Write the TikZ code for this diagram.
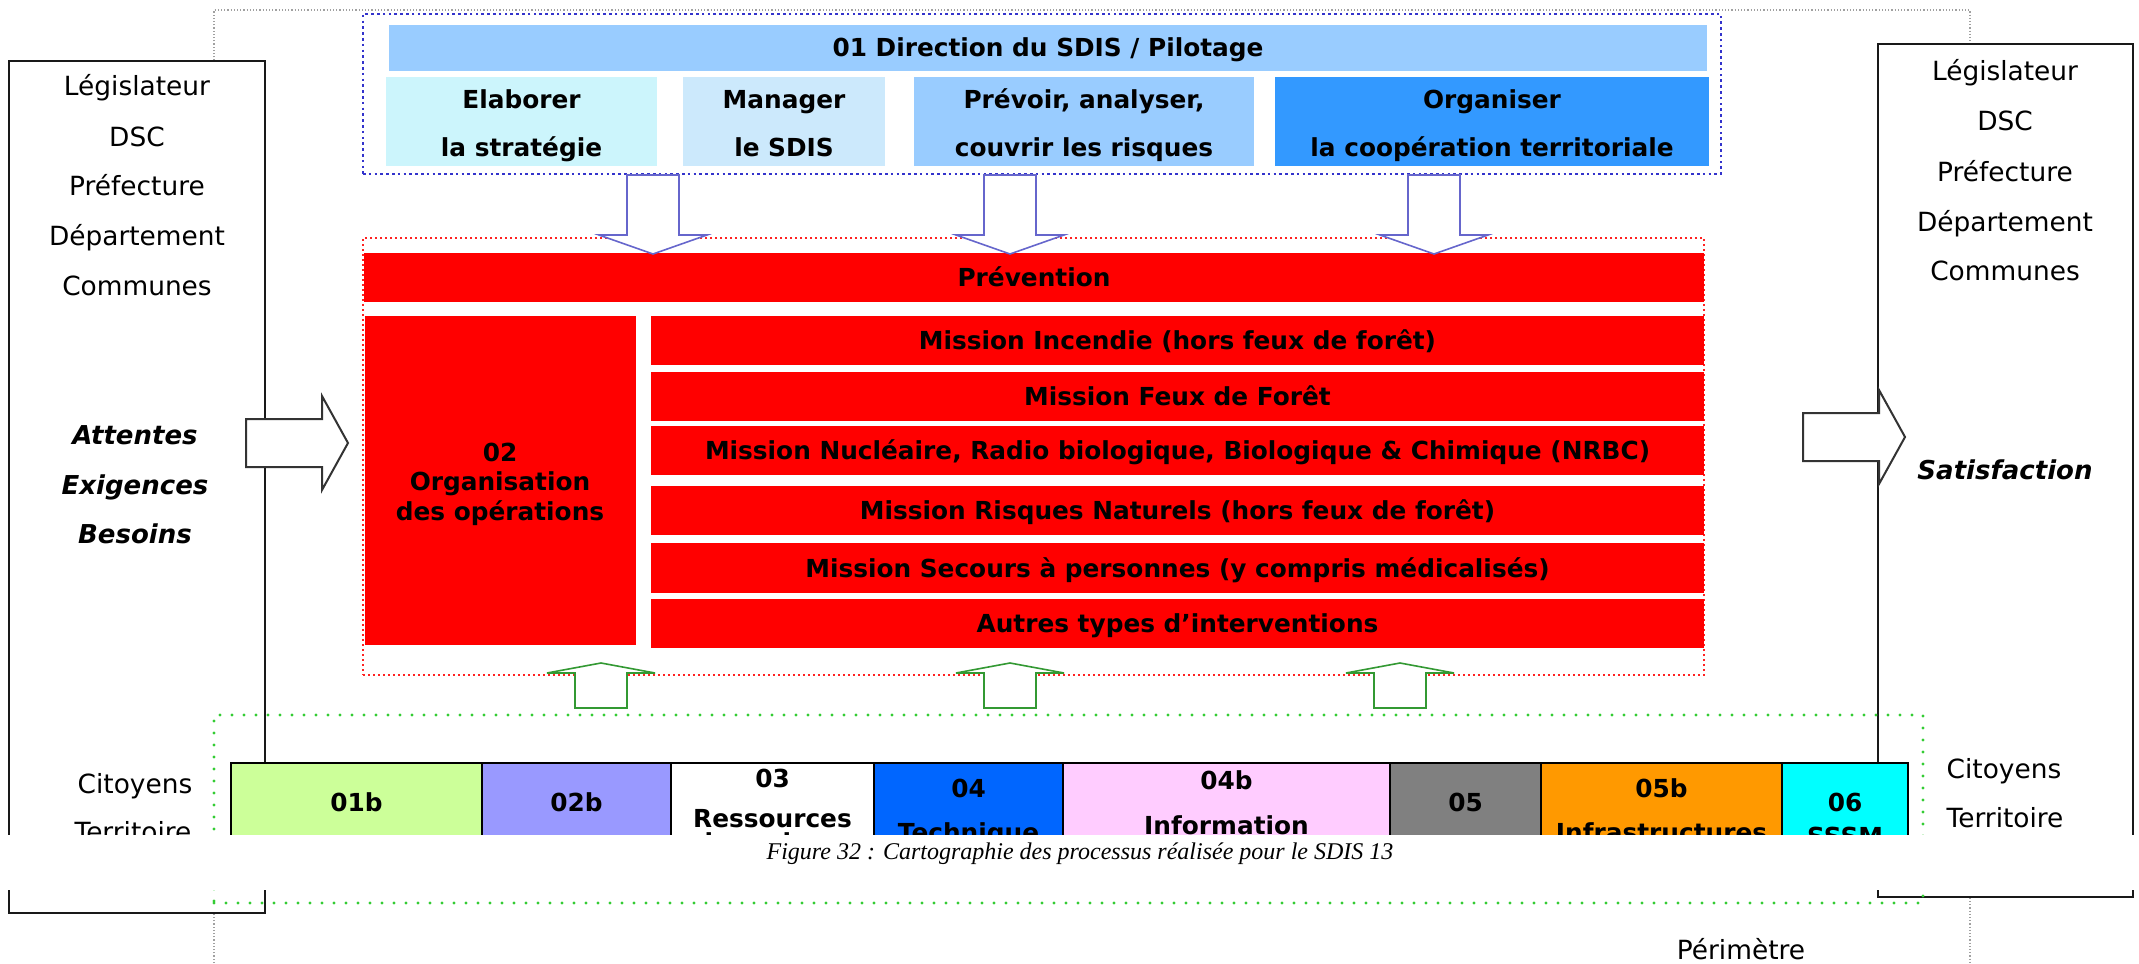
\documentclass[tikz,border=0pt]{standalone}
\usepackage{fontspec}
\setmainfont{DejaVu Sans}
\newfontfamily\capfont{Liberation Serif}
\definecolor{bdot}{HTML}{3333CC}
\definecolor{barr}{HTML}{6666CC}
\definecolor{topbar}{HTML}{99CCFF}
\definecolor{elab}{HTML}{CCF5FC}
\definecolor{mana}{HTML}{CCE9FC}
\definecolor{prev}{HTML}{99CCFF}
\definecolor{orga}{HTML}{3399FF}
\definecolor{rdot}{HTML}{FF2222}
\definecolor{gdot}{HTML}{33CC33}
\definecolor{garr}{HTML}{339933}
\definecolor{c01b}{HTML}{CCFF99}
\definecolor{c02b}{HTML}{9999FF}
\definecolor{c04}{HTML}{0066FF}
\definecolor{c04b}{HTML}{FFCCFF}
\definecolor{c05}{HTML}{808080}
\definecolor{c05b}{HTML}{FF9900}
\definecolor{c06}{HTML}{00FFFF}
\definecolor{perim}{HTML}{A0A0A0}
\definecolor{redbar}{HTML}{FF0000}
\tikzset{
 bx/.style={anchor=north west, inner sep=0pt, outer sep=0pt},
 regt/.style={anchor=base, inner sep=0pt, font=\fontsize{13.2}{16}\selectfont},
 bldt/.style={anchor=base, inner sep=0pt, font=\fontsize{12.4}{15}\selectfont\bfseries},
 bitt/.style={anchor=base, inner sep=0pt, font=\fontsize{13}{16}\selectfont\bfseries\itshape},
 intext/.style={font=\fontsize{12.4}{15}\selectfont\bfseries, text height=10.5pt, text depth=1.5pt},
 redb/.style={bx, fill=redbar, intext},
 sidebox/.style={bx, draw=black!90, line width=1pt, fill=white},
 botbox/.style={bx, draw=black, line width=1pt, minimum height=61pt},
 downarr/.pic={\draw[draw=barr, fill=white, line width=0.8pt, line join=miter] (-26,0)--(-26,60)--(-54,60)--(0,79)--(54,60)--(26,60)--(26,0)--cycle;},
 uparr/.pic={\draw[draw=garr, fill=white, line width=0.8pt, line join=miter] (-26,0)--(-26,-35)--(-54,-35)--(0,-45)--(54,-35)--(26,-35)--(26,0)--cycle;},
 sidearr/.pic={\draw[draw=black!80, fill=white, line width=1pt, line join=miter] (0,-24)--(76,-24)--(76,-47)--(102,0)--(76,47)--(76,24)--(0,24)--cycle;},
}
\begin{document}
\begin{tikzpicture}[x=0.5pt,y=-0.5pt]
\useasboundingbox (0,0) rectangle (2139,963);
\fill[white] (0,0) rectangle (2139,963);
% perimeter
\coordinate (pA) at (214,963);
\coordinate (pB) at (214,10);
\coordinate (pC) at (1970,10);
\coordinate (pD) at (1970,963);
\draw[perim, line width=0.6pt, densely dotted] (pA) -- (pB) -- (pC) -- (pD);
% side boxes
\node[sidebox, minimum width=128pt, minimum height=426pt] (lbox) at (9,61) {};
\node[sidebox, minimum width=127.5pt, minimum height=426.5pt] (rbox) at (1878,44) {};
\node[regt] (l1) at (137,96) {Législateur};
\node[regt] (l2) at (137,146) {DSC};
\node[regt] (l3) at (137,195) {Préfecture};
\node[regt] (l4) at (137,245) {Département};
\node[regt] (l5) at (137,295) {Communes};
\node[bitt] (l6) at (135,444) {Attentes};
\node[bitt] (l7) at (135,494) {Exigences};
\node[bitt] (l8) at (135,543) {Besoins};
\node[regt] (l9) at (135,793) {Citoyens};
\node[regt] (l10) at (133,841) {Territoire};
\node[regt] (r1) at (2005,81) {Législateur};
\node[regt] (r2) at (2005,131) {DSC};
\node[regt] (r3) at (2005,181) {Préfecture};
\node[regt] (r4) at (2005,231) {Département};
\node[regt] (r5) at (2005,280) {Communes};
\node[bitt] (r6) at (2005,479) {Satisfaction};
\node[regt] (r7) at (2004,778) {Citoyens};
\node[regt] (r8) at (2005,827) {Territoire};
% pilotage frame
\node[bx, draw=bdot, line width=1.4pt, dash pattern=on 1.3pt off 1.6pt, minimum width=679pt, minimum height=80pt] (pilot) at (363,14) {};
\node[bx, fill=topbar, minimum width=659pt, minimum height=23pt] (dir) at (389,25) {};
\node[bldt] (dirt) at (1048,57) {01 Direction du SDIS / Pilotage};
\node[bx, fill=elab, minimum width=135.5pt, minimum height=44.5pt] (elab) at (386,77) {};
\node[bx, fill=mana, minimum width=101pt, minimum height=44.5pt] (mana) at (683,77) {};
\node[bx, fill=prev, minimum width=170pt, minimum height=44.5pt] (prev) at (914,77) {};
\node[bx, fill=orga, minimum width=217pt, minimum height=44.5pt] (orga) at (1275,77) {};
\node[bldt] (e1) at (521.5,109) {Elaborer};
\node[bldt] (e2) at (521.5,156) {la stratégie};
\node[bldt] (m1) at (784,109) {Manager};
\node[bldt] (m2) at (784,156) {le SDIS};
\node[bldt] (v1) at (1084,109) {Prévoir, analyser,};
\node[bldt] (v2) at (1084,156) {couvrir les risques};
\node[bldt] (o1) at (1492,109) {Organiser};
\node[bldt] (o2) at (1492,156) {la coopération territoriale};
% operations frame
\node[bx, draw=rdot, line width=1.2pt, dash pattern=on 1pt off 1.5pt, minimum width=670.5pt, minimum height=218.5pt] (ops) at (363,238) {};
\node[redb, minimum width=670pt, minimum height=24.5pt] (prevt) at (364,253) {Prévention};
\node[bx, fill=redbar, minimum width=135.5pt, minimum height=164.5pt] (org) at (365,316) {};
\node[bldt] (g1) at (500,461) {02};
\node[bldt] (g2) at (500,490) {Organisation};
\node[bldt] (g3) at (500,520) {des opérations};
\node[redb, minimum width=526.5pt, minimum height=24.5pt] (mis1) at (651,316) {Mission Incendie (hors feux de forêt)};
\node[redb, minimum width=526.5pt, minimum height=24.5pt] (mis2) at (651,372) {Mission Feux de Forêt};
\node[redb, minimum width=526.5pt, minimum height=24.5pt] (mis3) at (651,426) {Mission Nucléaire, Radio biologique, Biologique \& Chimique (NRBC)};
\node[redb, minimum width=526.5pt, minimum height=24.5pt] (mis4) at (651,486) {Mission Risques Naturels (hors feux de forêt)};
\node[redb, minimum width=526.5pt, minimum height=25pt] (mis5) at (651,543) {Mission Secours à personnes (y compris médicalisés)};
\node[redb, minimum width=526.5pt, minimum height=24.5pt] (mis6) at (651,599) {Autres types d’interventions};
% blue arrows
\pic at (653,175) {downarr};
\pic at (1010,175) {downarr};
\pic at (1434,175) {downarr};
% side arrows
\pic at (246,443) {sidearr};
\pic at (1803,437) {sidearr};
% support frame
\node[bx, draw=gdot, line width=1.7pt, dash pattern=on 0pt off 6pt, line cap=round, minimum width=854.5pt, minimum height=94pt] (supp) at (214,715) {};
\pic at (601,708) {uparr};
\pic at (1010,708) {uparr};
\pic at (1400,708) {uparr};
% bottom boxes
\node[botbox, fill=c01b, minimum width=125.5pt] (b01) at (231,763) {};
\node[botbox, fill=c02b, minimum width=94.5pt] (b02) at (482,763) {};
\node[botbox, fill=white, minimum width=101.5pt] (b03) at (671,763) {};
\node[botbox, fill=c04, minimum width=94.5pt] (b04) at (874,763) {};
\node[botbox, fill=c04b, minimum width=163.5pt] (b04b) at (1063,763) {};
\node[botbox, fill=c05, minimum width=75.5pt] (b05) at (1390,763) {};
\node[botbox, fill=c05b, minimum width=120.5pt] (b05b) at (1541,763) {};
\node[botbox, fill=c06, minimum width=63pt] (b06) at (1782,763) {};
\node[bldt] (t01) at (356.5,811) {01b};
\node[bldt] (t02) at (576.5,811) {02b};
\node[bldt] (t03) at (772.5,787) {03};
\node[bldt] (t03a) at (772.5,827) {Ressources};
\node[bldt] (t03b) at (772.5,851) {humaines};
\node[bldt] (t04) at (968.5,797) {04};
\node[bldt] (t04a) at (968.5,841) {Technique};
\node[bldt] (t04b) at (1226.5,789) {04b};
\node[bldt] (t04ba) at (1226.5,834) {Information};
\node[bldt] (t05) at (1465.5,811) {05};
\node[bldt] (t05b) at (1661.5,797) {05b};
\node[bldt] (t05ba) at (1661.5,841) {Infrastructures};
\node[bldt] (t06) at (1845,811) {06};
\node[bldt] (t06a) at (1845,845) {SSSM};
% caption band
\fill[white] (0,835) rectangle (2139,890);
\node[anchor=base, inner sep=0pt, font=\capfont\itshape\fontsize{12}{14}\selectfont] (cap) at (1080,859) {Figure 32 : Cartographie des processus réalisée pour le SDIS 13};
\node[regt] (perimt) at (1741,959) {Périmètre};
\end{tikzpicture}
\end{document}
